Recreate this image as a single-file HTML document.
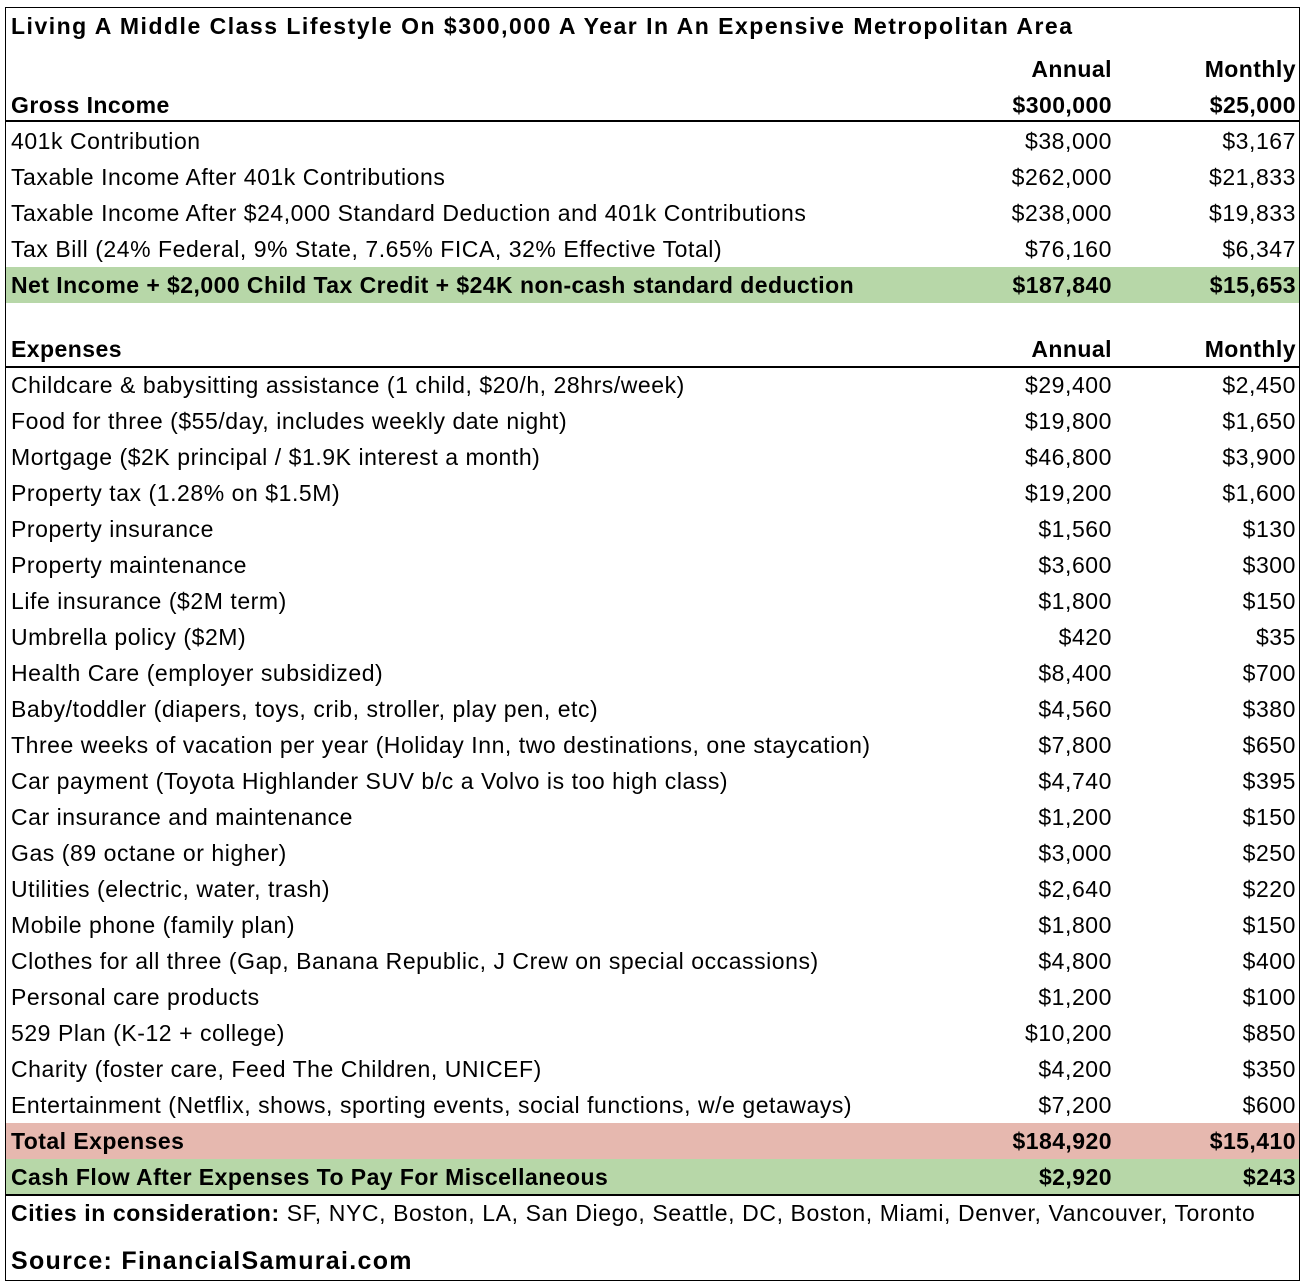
<!DOCTYPE html>
<html><head><meta charset="utf-8"><style>
body{margin:0;width:1308px;height:1288px;background:#fff;position:relative;font-family:"Liberation Sans",Arial,sans-serif;font-size:23px;letter-spacing:0.55px;color:#000;overflow:hidden}
.box{position:absolute;left:5px;top:7px;width:1295px;height:1274px;border:1.5px solid #000;box-sizing:border-box}
.r{position:absolute;left:5px;width:1295px;height:36px;line-height:36px}
.r span{position:absolute;white-space:nowrap}
.l{left:6px}
.a{right:188px}
.m{right:4px}
.b{font-weight:bold;letter-spacing:0.45px}
.hl{position:absolute;left:5px;width:1295px;height:1.5px;background:#000}
.g{background:#b7d7a8}.p{background:#e6b8af}
</style></head><body>
<div class="r g" style="top:267px"></div>
<div class="r p" style="top:1123px"></div>
<div class="r g" style="top:1159px"></div>
<div class="box"></div>
<div class="hl" style="top:120px"></div>
<div class="hl" style="top:366px"></div>
<div class="hl" style="top:1194px"></div>
<div class="r b" style="top:8px;letter-spacing:1.5px"><span class="l">Living A Middle Class Lifestyle On $300,000 A Year In An Expensive Metropolitan Area</span></div>
<div class="r b" style="top:51px"><span class="a">Annual</span><span class="m">Monthly</span></div>
<div class="r b" style="top:87px"><span class="l">Gross Income</span><span class="a">$300,000</span><span class="m">$25,000</span></div>
<div class="r" style="top:123px"><span class="l">401k Contribution</span><span class="a">$38,000</span><span class="m">$3,167</span></div>
<div class="r" style="top:159px"><span class="l">Taxable Income After 401k Contributions</span><span class="a">$262,000</span><span class="m">$21,833</span></div>
<div class="r" style="top:195px"><span class="l">Taxable Income After $24,000 Standard Deduction and 401k Contributions</span><span class="a">$238,000</span><span class="m">$19,833</span></div>
<div class="r" style="top:231px"><span class="l">Tax Bill (24% Federal, 9% State, 7.65% FICA, 32% Effective Total)</span><span class="a">$76,160</span><span class="m">$6,347</span></div>
<div class="r b" style="top:267px"><span class="l">Net Income + $2,000 Child Tax Credit + $24K non-cash standard deduction</span><span class="a">$187,840</span><span class="m">$15,653</span></div>
<div class="r b" style="top:331px"><span class="l">Expenses</span><span class="a">Annual</span><span class="m">Monthly</span></div>
<div class="r" style="top:367px"><span class="l">Childcare &amp; babysitting assistance (1 child, $20/h, 28hrs/week)</span><span class="a">$29,400</span><span class="m">$2,450</span></div>
<div class="r" style="top:403px"><span class="l">Food for three ($55/day, includes weekly date night)</span><span class="a">$19,800</span><span class="m">$1,650</span></div>
<div class="r" style="top:439px"><span class="l">Mortgage ($2K principal / $1.9K interest a month)</span><span class="a">$46,800</span><span class="m">$3,900</span></div>
<div class="r" style="top:475px"><span class="l">Property tax (1.28% on $1.5M)</span><span class="a">$19,200</span><span class="m">$1,600</span></div>
<div class="r" style="top:511px"><span class="l">Property insurance</span><span class="a">$1,560</span><span class="m">$130</span></div>
<div class="r" style="top:547px"><span class="l">Property maintenance</span><span class="a">$3,600</span><span class="m">$300</span></div>
<div class="r" style="top:583px"><span class="l">Life insurance ($2M term)</span><span class="a">$1,800</span><span class="m">$150</span></div>
<div class="r" style="top:619px"><span class="l">Umbrella policy ($2M)</span><span class="a">$420</span><span class="m">$35</span></div>
<div class="r" style="top:655px"><span class="l">Health Care (employer subsidized)</span><span class="a">$8,400</span><span class="m">$700</span></div>
<div class="r" style="top:691px"><span class="l">Baby/toddler (diapers, toys, crib, stroller, play pen, etc)</span><span class="a">$4,560</span><span class="m">$380</span></div>
<div class="r" style="top:727px"><span class="l">Three weeks of vacation per year (Holiday Inn, two destinations, one staycation)</span><span class="a">$7,800</span><span class="m">$650</span></div>
<div class="r" style="top:763px"><span class="l">Car payment (Toyota Highlander SUV b/c a Volvo is too high class)</span><span class="a">$4,740</span><span class="m">$395</span></div>
<div class="r" style="top:799px"><span class="l">Car insurance and maintenance</span><span class="a">$1,200</span><span class="m">$150</span></div>
<div class="r" style="top:835px"><span class="l">Gas (89 octane or higher)</span><span class="a">$3,000</span><span class="m">$250</span></div>
<div class="r" style="top:871px"><span class="l">Utilities (electric, water, trash)</span><span class="a">$2,640</span><span class="m">$220</span></div>
<div class="r" style="top:907px"><span class="l">Mobile phone (family plan)</span><span class="a">$1,800</span><span class="m">$150</span></div>
<div class="r" style="top:943px"><span class="l">Clothes for all three (Gap, Banana Republic, J Crew on special occassions)</span><span class="a">$4,800</span><span class="m">$400</span></div>
<div class="r" style="top:979px"><span class="l">Personal care products</span><span class="a">$1,200</span><span class="m">$100</span></div>
<div class="r" style="top:1015px"><span class="l">529 Plan (K-12 + college)</span><span class="a">$10,200</span><span class="m">$850</span></div>
<div class="r" style="top:1051px"><span class="l">Charity (foster care, Feed The Children, UNICEF)</span><span class="a">$4,200</span><span class="m">$350</span></div>
<div class="r" style="top:1087px"><span class="l">Entertainment (Netflix, shows, sporting events, social functions, w/e getaways)</span><span class="a">$7,200</span><span class="m">$600</span></div>
<div class="r b" style="top:1123px"><span class="l">Total Expenses</span><span class="a">$184,920</span><span class="m">$15,410</span></div>
<div class="r b" style="top:1159px"><span class="l">Cash Flow After Expenses To Pay For Miscellaneous</span><span class="a">$2,920</span><span class="m">$243</span></div>
<div class="r" style="top:1195px;letter-spacing:0.6px"><span class="l"><b>Cities in consideration:</b> SF, NYC, Boston, LA, San Diego, Seattle, DC, Boston, Miami, Denver, Vancouver, Toronto</span></div>
<div class="r b" style="top:1243px;font-size:25px;letter-spacing:1.3px"><span class="l">Source: FinancialSamurai.com</span></div>
</body></html>
